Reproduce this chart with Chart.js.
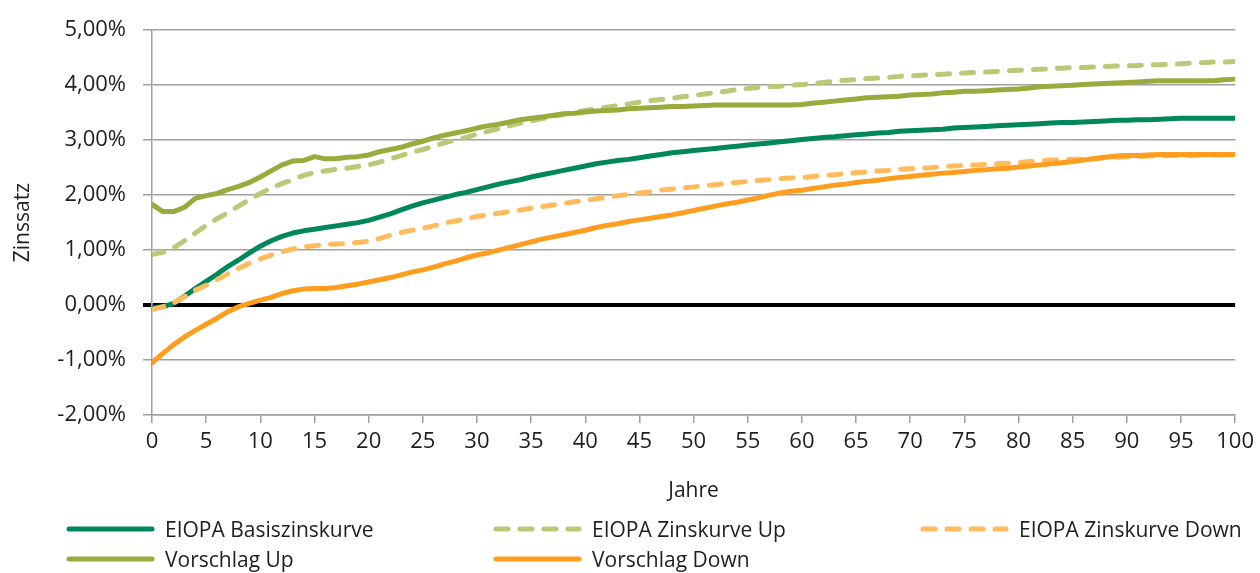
<!DOCTYPE html>
<html><head><meta charset="utf-8">
<script src="https://cdn.jsdelivr.net/npm/chart.js@4/dist/chart.umd.min.js"></script>
<style>
html,body{margin:0;padding:0;background:#fff;}
#wrap{position:relative;width:1260px;height:573px;overflow:hidden;}
#legend{position:absolute;left:0;top:0;width:1260px;height:573px;pointer-events:none;font-family:'Open Sans';font-size:21px;color:#1e1e1e;}
.item{position:absolute;display:flex;align-items:center;height:30px;white-space:nowrap;}
.item svg{margin-right:9px;}
</style></head><body>
<div id="wrap"><canvas id="c" width="1260" height="573"></canvas><div id="legend"></div></div>
<script>
const years = [0,1,2,3,4,5,6,7,8,9,10,11,12,13,14,15,16,17,18,19,20,21,22,23,24,25,26,27,28,29,30,31,32,33,34,35,36,37,38,39,40,41,42,43,44,45,46,47,48,49,50,51,52,53,54,55,56,57,58,59,60,61,62,63,64,65,66,67,68,69,70,71,72,73,74,75,76,77,78,79,80,81,82,83,84,85,86,87,88,89,90,91,92,93,94,95,96,97,98,99,100];
const xTicks = [0,5,10,15,20,25,30,35,40,45,50,55,60,65,70,75,80,85,90,95,100];
const yTicks = [-2,-1,0,1,2,3,4,5];
const seriesNames = ['EIOPA Basiszinskurve','EIOPA Zinskurve Up','EIOPA Zinskurve Down','Vorschlag Up','Vorschlag Down'];

const basis = [-0.05,-0.03,0.03,0.16,0.30,0.43,0.56,0.70,0.82,0.95,
1.07,1.17,1.25,1.31,1.35,1.38,1.41,1.44,1.47,1.50,
1.54,1.60,1.66,1.73,1.80,1.86,1.91,1.96,2.01,2.05,
2.10,2.15,2.20,2.24,2.28,2.33,2.37,2.41,2.45,2.49,
2.53,2.57,2.60,2.63,2.65,2.68,2.71,2.74,2.77,2.79,
2.81,2.83,2.85,2.87,2.89,2.91,2.93,2.95,2.97,2.99,
3.01,3.03,3.05,3.06,3.08,3.10,3.11,3.13,3.14,3.16,
3.17,3.18,3.19,3.20,3.22,3.23,3.24,3.25,3.26,3.27,
3.28,3.29,3.30,3.31,3.32,3.32,3.33,3.34,3.35,3.36,
3.36,3.37,3.37,3.38,3.39,3.40,3.40,3.40,3.40,3.40,
3.40];
const eiopaUp = [0.92,0.96,1.04,1.17,1.31,1.45,1.57,1.68,1.80,1.92,
2.03,2.13,2.21,2.28,2.36,2.41,2.44,2.47,2.49,2.52,
2.55,2.60,2.66,2.72,2.78,2.83,2.89,2.95,3.00,3.05,
3.11,3.16,3.21,3.26,3.31,3.35,3.39,3.43,3.47,3.50,
3.54,3.57,3.60,3.63,3.66,3.69,3.72,3.74,3.76,3.79,
3.81,3.84,3.86,3.89,3.92,3.94,3.96,3.97,3.98,4.00,
4.01,4.03,4.05,4.07,4.09,4.10,4.12,4.13,4.14,4.16,
4.17,4.18,4.19,4.20,4.21,4.22,4.23,4.24,4.25,4.26,
4.27,4.28,4.29,4.30,4.31,4.32,4.32,4.33,4.34,4.35,
4.35,4.36,4.37,4.37,4.38,4.39,4.40,4.41,4.42,4.42,
4.43];
const eiopaDown = [-0.08,-0.03,0.04,0.15,0.27,0.36,0.46,0.57,0.67,0.76,
0.84,0.91,0.97,1.02,1.06,1.08,1.10,1.11,1.12,1.14,
1.16,1.21,1.27,1.32,1.36,1.40,1.44,1.49,1.53,1.57,
1.61,1.64,1.67,1.70,1.73,1.76,1.79,1.82,1.85,1.88,
1.90,1.93,1.96,1.99,2.01,2.04,2.06,2.09,2.11,2.13,
2.15,2.17,2.19,2.21,2.23,2.25,2.27,2.28,2.30,2.31,
2.32,2.34,2.36,2.37,2.39,2.41,2.42,2.44,2.45,2.47,
2.48,2.49,2.50,2.52,2.53,2.54,2.55,2.56,2.57,2.58,
2.59,2.61,2.62,2.64,2.65,2.65,2.66,2.67,2.68,2.69,
2.70,2.70,2.71,2.71,2.72,2.72,2.72,2.73,2.73,2.73,
2.73];
const vorschlagUp = [1.83,1.70,1.70,1.78,1.94,1.99,2.03,2.10,2.16,2.23,
2.33,2.44,2.55,2.62,2.63,2.70,2.66,2.66,2.69,2.70,
2.73,2.79,2.83,2.87,2.93,2.98,3.04,3.09,3.13,3.17,
3.22,3.26,3.29,3.33,3.37,3.40,3.42,3.45,3.48,3.49,
3.51,3.53,3.54,3.55,3.57,3.58,3.59,3.60,3.61,3.61,
3.62,3.63,3.64,3.64,3.64,3.64,3.64,3.64,3.64,3.64,
3.65,3.67,3.69,3.71,3.73,3.75,3.77,3.78,3.79,3.80,
3.82,3.83,3.84,3.86,3.87,3.89,3.89,3.90,3.91,3.92,
3.93,3.95,3.97,3.98,3.99,4.00,4.01,4.02,4.03,4.04,
4.05,4.06,4.07,4.08,4.08,4.08,4.08,4.08,4.08,4.10,
4.11];
const vorschlagDown = [-1.05,-0.88,-0.72,-0.58,-0.46,-0.35,-0.24,-0.12,-0.03,0.03,
0.09,0.14,0.21,0.26,0.29,0.30,0.30,0.32,0.35,0.38,
0.42,0.46,0.50,0.55,0.60,0.64,0.69,0.75,0.80,0.86,
0.91,0.95,1.00,1.05,1.10,1.15,1.20,1.24,1.28,1.32,
1.36,1.41,1.45,1.48,1.52,1.55,1.58,1.61,1.64,1.68,
1.72,1.76,1.80,1.84,1.87,1.91,1.95,2.00,2.04,2.07,
2.09,2.12,2.15,2.18,2.20,2.23,2.25,2.27,2.30,2.32,
2.34,2.36,2.38,2.40,2.41,2.43,2.45,2.46,2.48,2.49,
2.51,2.53,2.55,2.57,2.59,2.61,2.64,2.66,2.69,2.71,
2.72,2.72,2.73,2.74,2.74,2.74,2.74,2.74,2.74,2.74,
2.74];

const values = [basis, eiopaUp, eiopaDown, vorschlagUp, vorschlagDown];
const colors = ['#00875A','#BCC878','#FFBB5E','#9BAA3C','#FF9E1E'];
const dashes = [[],[12,12],[12,12],[],[]];

const FONT = 'Open Sans';
const GRID = '#a0a0a0';
const TXT = '#1e1e1e';

const datasets = values.map((v, k) => ({
  label: seriesNames[k],
  data: years.map((yr, i) => ({x: yr, y: v[i]})),
  borderColor: colors[k],
  backgroundColor: colors[k],
  borderWidth: 5,
  borderDash: dashes[k],
  borderCapStyle: 'round',
  borderJoinStyle: 'round',
  pointRadius: 0,
  tension: 0,
  fill: false,
  order: 5 - k
}));

new Chart(document.getElementById('c'), {
  type: 'line',
  data: { datasets },
  options: {
    responsive: false,
    devicePixelRatio: 1,
    animation: false,
    layout: { padding: { top: 21, right: 24, bottom: 58, left: 0 } },
    plugins: { legend: { display: false }, tooltip: { enabled: false } },
    scales: {
      x: {
        type: 'linear', min: 0, max: 100,
        afterBuildTicks: s => { s.ticks = xTicks.map(v => ({value: v})); },
        afterFit: s => { s.height = 100; },
        ticks: { font: { family: FONT, size: 22 }, color: TXT, padding: 6, maxRotation: 0, autoSkip: false },
        grid: { drawOnChartArea: false, drawTicks: true, tickLength: 8, color: GRID, lineWidth: 1.5 },
        border: { color: GRID, width: 1.5 },
        title: { display: true, text: 'Jahre', font: { family: FONT, size: 21 }, color: TXT, padding: { top: 0, bottom: 11 } }
      },
      y: {
        type: 'linear', min: -2, max: 5,
        afterBuildTicks: s => { s.ticks = yTicks.map(v => ({value: v})); },
        afterFit: s => { s.width = 152; },
        ticks: { font: { family: FONT, size: 22 }, color: TXT, padding: 17,
          callback: v => v.toFixed(2).replace('.', ',') + '%' },
        grid: {
          color: c => (c.tick && c.tick.value === 0) ? '#000' : GRID,
          lineWidth: c => (c.tick && c.tick.value === 0) ? 4 : 1.5,
          tickLength: 9
        },
        border: { color: GRID, width: 1.5 },
        title: { display: true, text: 'Zinssatz', font: { family: FONT, size: 21 }, color: TXT, padding: { top: 10, bottom: 0 } }
      }
    }
  }
});

// legend in Excel-like grid (3 columns, 2 rows)
const legendPos = [[66,514],[493,514],[920,514],[66,544],[493,544]];
const lg = document.getElementById('legend');
datasets.forEach((d, k) => {
  const it = document.createElement('div');
  it.className = 'item';
  it.style.left = legendPos[k][0] + 'px';
  it.style.top = legendPos[k][1] + 'px';
  const dash = d.borderDash.length ? `stroke-dasharray="${d.borderDash.join(' ')}"` : '';
  it.innerHTML = `<svg width="90" height="10"><line x1="3" y1="5" x2="86" y2="5" stroke="${d.borderColor}" stroke-width="5" stroke-linecap="round" ${dash}/></svg><span>${d.label}</span>`;
  lg.appendChild(it);
});
</script>
</body></html>
